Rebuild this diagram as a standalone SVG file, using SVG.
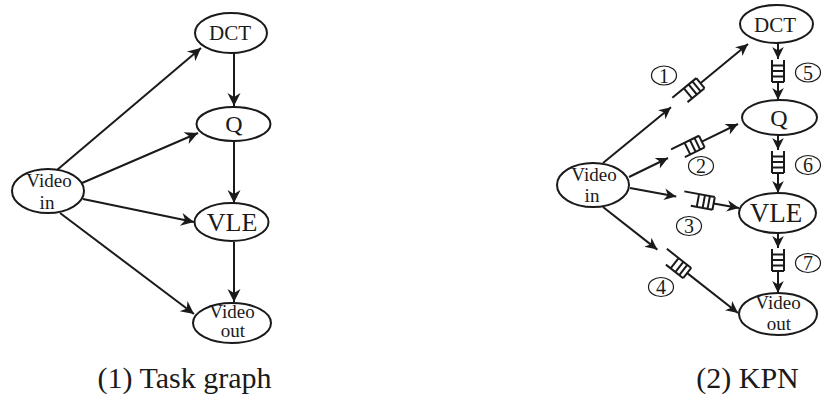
<svg xmlns="http://www.w3.org/2000/svg" xmlns:xlink="http://www.w3.org/1999/xlink" width="822" height="399" viewBox="0 0 822 399">
  <style>
    .node { fill: #ffffff; stroke: #1a1a1a; stroke-width: 2; }
    .edge { fill: none; stroke: #1a1a1a; stroke-width: 2; }
    .edge-s { fill: none; stroke: #1a1a1a; stroke-width: 2; }
    .fifo { fill: none; stroke: #1a1a1a; stroke-width: 2; }
    .tag { fill: none; stroke: #1a1a1a; stroke-width: 1.2; }
    text { font-family: "Liberation Serif", "Times New Roman", serif; fill: #1a1a1a; text-anchor: middle; }
    .cap { font-size: 30px; }
    .num { font-size: 20px; }
  </style>
  <defs>
    <marker id="ah" viewBox="-14 -7 15 14" refX="0" refY="0" markerWidth="15" markerHeight="14" orient="auto" markerUnits="userSpaceOnUse">
      <path d="M0,0 L-13,-6.5 L-9,0 L-13,6.5 Z" fill="#1a1a1a"/>
    </marker>
    <marker id="ahs" viewBox="-13 -7 14 14" refX="0" refY="0" markerWidth="14" markerHeight="14" orient="auto" markerUnits="userSpaceOnUse">
      <path d="M0,0 L-12,-5.8 L-8.5,0 L-12,5.8 Z" fill="#1a1a1a"/>
    </marker>
    <!-- FIFO buffer: flow along +x, open at x=0, closed at x=22 -->
    <g id="fifo" class="fifo">
      <path d="M0,-6 H22 M0,6 H22 M5.5,-6 V6 M11,-6 V6 M16.5,-6 V6 M22,-6 V6"/>
    </g>
    <g id="fifo-long" class="fifo">
      <path d="M-9,-6.5 H22 M0,6.5 H22 M6,-6.5 V6.5 M12,-6.5 V6.5 M17,-6.5 V6.5 M22,-6.5 V6.5"/>
    </g>
  </defs>

  <!-- (1) Task graph -->
  <g id="task-edges">
    <path class="edge" d="M57,170 L201,48" marker-end="url(#ah)"/>
    <path class="edge" d="M82,183 L198,133" marker-end="url(#ah)"/>
    <path class="edge" d="M83,199 L194,222" marker-end="url(#ah)"/>
    <path class="edge" d="M60,213 L194,314" marker-end="url(#ah)"/>
    <path class="edge" d="M234,53 V106" marker-end="url(#ah)"/>
    <path class="edge" d="M234,141 V203" marker-end="url(#ah)"/>
    <path class="edge" d="M234,242 V302" marker-end="url(#ah)"/>
  </g>
  <g id="t-dct">
    <ellipse class="node" cx="231" cy="33" rx="36" ry="20"/>
    <text x="230" y="40" font-size="21">DCT</text>
  </g>
  <g id="t-q">
    <ellipse class="node" cx="233.5" cy="124" rx="37" ry="17"/>
    <text x="234" y="132" font-size="24">Q</text>
  </g>
  <g id="t-vle">
    <ellipse class="node" cx="231.5" cy="222" rx="37" ry="19"/>
    <text x="232" y="231" font-size="26">VLE</text>
  </g>
  <g id="t-video-in">
    <ellipse class="node" cx="48" cy="191" rx="36" ry="22"/>
    <text x="49" y="187" font-size="19">Video</text>
    <text x="47" y="209" font-size="19">in</text>
  </g>
  <g id="t-video-out">
    <ellipse class="node" cx="232" cy="323" rx="39" ry="20"/>
    <text x="232" y="318" font-size="19">Video</text>
    <text x="233" y="337" font-size="19">out</text>
  </g>
  <text class="cap" x="184.5" y="388">(1) Task graph</text>

  <!-- (2) KPN -->
  <g id="kpn-edges">
    <!-- Video in to DCT through FIFO 1 -->
    <path class="edge-s" d="M603,163 L671,107.2" marker-end="url(#ahs)"/>
    <use xlink:href="#fifo-long" transform="translate(683.4,97.1) rotate(-39.4)"/>
    <path class="edge-s" d="M700.4,83.2 L748,44" marker-end="url(#ahs)"/>
    <!-- Video in to Q through FIFO 2 -->
    <path class="edge-s" d="M629,177 L668,158" marker-end="url(#ahs)"/>
    <use xlink:href="#fifo-long" transform="translate(682,151.2) rotate(-25.9)"/>
    <path class="edge-s" d="M701.8,141.6 L738,124" marker-end="url(#ahs)"/>
    <!-- Video in to VLE through FIFO 3 -->
    <path class="edge-s" d="M630,188 L676.2,196.5" marker-end="url(#ahs)"/>
    <use xlink:href="#fifo-long" transform="translate(692,199.4) rotate(10.4)"/>
    <path class="edge-s" d="M713.6,203.4 L739,208" marker-end="url(#ahs)"/>
    <!-- Video in to Video out through FIFO 4 -->
    <path class="edge-s" d="M603,207 L657.3,249.6" marker-end="url(#ahs)"/>
    <use xlink:href="#fifo-long" transform="translate(669.9,259.5) rotate(38.1)"/>
    <path class="edge-s" d="M687.2,273.1 L738,313" marker-end="url(#ahs)"/>
    <!-- DCT to Q through FIFO 5 -->
    <path class="edge-s" d="M778,43 V59" marker-end="url(#ahs)"/>
    <use xlink:href="#fifo" transform="translate(778,60) rotate(90)"/>
    <path class="edge-s" d="M778,82 V100" marker-end="url(#ahs)"/>
    <!-- Q to VLE through FIFO 6 -->
    <path class="edge-s" d="M778,135 V150" marker-end="url(#ahs)"/>
    <use xlink:href="#fifo" transform="translate(778,151) rotate(90)"/>
    <path class="edge-s" d="M778,173 V193" marker-end="url(#ahs)"/>
    <!-- VLE to Video out through FIFO 7 -->
    <path class="edge-s" d="M778,233 V248" marker-end="url(#ahs)"/>
    <use xlink:href="#fifo" transform="translate(778,249) rotate(90)"/>
    <path class="edge-s" d="M778,271 V293" marker-end="url(#ahs)"/>
  </g>
  <g id="k-dct">
    <ellipse class="node" cx="776.5" cy="24" rx="36.5" ry="19"/>
    <text x="775" y="32" font-size="21">DCT</text>
  </g>
  <g id="k-q">
    <ellipse class="node" cx="779.5" cy="117.5" rx="37.5" ry="17.5"/>
    <text x="779" y="126" font-size="24">Q</text>
  </g>
  <g id="k-vle">
    <ellipse class="node" cx="777.5" cy="213" rx="38.5" ry="20"/>
    <text x="776" y="222" font-size="27">VLE</text>
  </g>
  <g id="k-video-in">
    <ellipse class="node" cx="593" cy="185" rx="36" ry="22"/>
    <text x="594" y="181" font-size="19">Video</text>
    <text x="592" y="202" font-size="19">in</text>
  </g>
  <g id="k-video-out">
    <ellipse class="node" cx="778" cy="314" rx="39" ry="21"/>
    <text x="778" y="309" font-size="19">Video</text>
    <text x="779" y="330" font-size="19">out</text>
  </g>
  <g id="fifo-labels">
    <ellipse class="tag" cx="664" cy="75.5" rx="12.5" ry="9.5"/><text class="num" x="664" y="82.5">1</text>
    <ellipse class="tag" cx="701" cy="166" rx="12.5" ry="9.5"/><text class="num" x="701" y="173">2</text>
    <ellipse class="tag" cx="689" cy="226" rx="12.5" ry="9.5"/><text class="num" x="689" y="233">3</text>
    <ellipse class="tag" cx="661" cy="287" rx="12.5" ry="9.5"/><text class="num" x="661" y="294">4</text>
    <ellipse class="tag" cx="808" cy="72.5" rx="12.5" ry="9.5"/><text class="num" x="808" y="79.5">5</text>
    <ellipse class="tag" cx="808" cy="165" rx="12.5" ry="9.5"/><text class="num" x="808" y="172">6</text>
    <ellipse class="tag" cx="808" cy="263" rx="12.5" ry="9.5"/><text class="num" x="808" y="270">7</text>
  </g>
  <text class="cap" x="747.5" y="388">(2) KPN</text>
</svg>
